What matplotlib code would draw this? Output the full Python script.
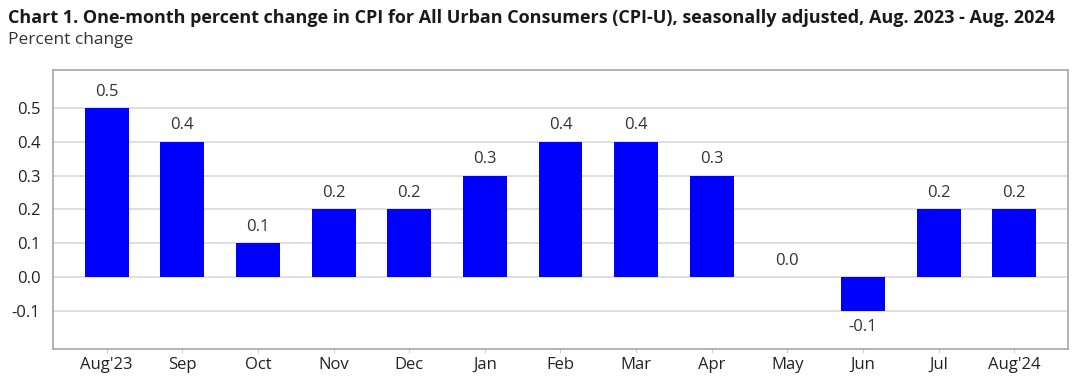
import numpy as np
import matplotlib.pyplot as plt

months = ["Aug'23", "Sep", "Oct", "Nov", "Dec", "Jan", "Feb", "Mar", "Apr",
          "May", "Jun", "Jul", "Aug'24"]
changes = [0.5, 0.4, 0.1, 0.2, 0.2, 0.3, 0.4, 0.4, 0.3, 0.0, -0.1, 0.2, 0.2]
yticks = [-0.1, 0.0, 0.1, 0.2, 0.3, 0.4, 0.5]

title = ("Chart 1. One-month percent change in CPI for All Urban Consumers (CPI-U), "
         "seasonally adjusted, Aug. 2023 - Aug. 2024")

plt.rcParams['font.family'] = ['Open Sans', 'DejaVu Sans']

fig = plt.figure(figsize=(10.77, 3.8), dpi=100)
ax = fig.add_axes([53 / 1077, 1 - 349 / 380, (1068 - 53) / 1077, (349 - 70) / 380])

x = np.arange(len(months))
ax.bar(x, changes, width=0.58, color='#0000ff', zorder=3)

for xi, v in zip(x, changes):
    if v < 0:
        ax.annotate(f"{v:.1f}", (xi, v), xytext=(0, -6), textcoords='offset points',
                    ha='center', va='top', fontsize=12, color='#333333')
    else:
        ax.annotate(f"{v:.1f}", (xi, v), xytext=(0, 6), textcoords='offset points',
                    ha='center', va='bottom', fontsize=12, color='#333333')

ax.set_xlim(-0.71, 12.71)
ax.set_ylim(-0.213, 0.612)
ax.set_xticks(x)
ax.set_xticklabels(months, fontsize=12, color='#222222')
ax.set_yticks(yticks)
ax.set_yticklabels([f"{t:.1f}" for t in yticks], fontsize=12, color='#222222')
ax.tick_params(axis='x', length=3, color='#d0d0d0', pad=3)
ax.tick_params(axis='y', length=0, pad=9)
ax.grid(axis='y', color='#d9d9d9', linewidth=1.2, zorder=0)
for s in ax.spines.values():
    s.set_color('#a6a6a6')
    s.set_linewidth(1.2)

fig.text(8 / 1077, 1 - 9 / 380, title, fontsize=13, fontweight='bold',
         color='#1a1a1a', va='top', ha='left')
fig.text(8 / 1077, 1 - 32 / 380, "Percent change", fontsize=12.5,
         color='#333333', va='top', ha='left')

fig.savefig("out.png", dpi=100)
